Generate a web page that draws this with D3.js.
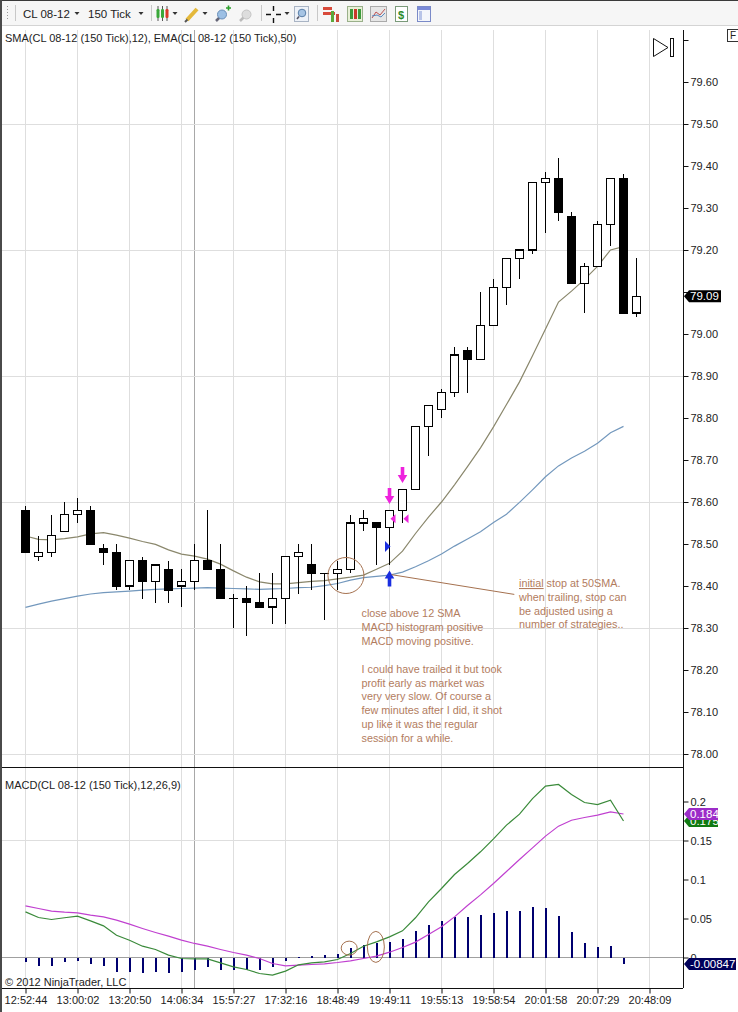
<!DOCTYPE html>
<html>
<head>
<meta charset="utf-8">
<title>CL 08-12 (150 Tick)</title>
<script src="https://cdn.jsdelivr.net/npm/d3@7"></script>
<style>
  body { margin:0; padding:0; background:#fff; overflow:hidden; }
  svg text { font-family: "Liberation Sans", Arial, sans-serif; }
</style>
</head>
<body>
<svg id="chart" width="738" height="1012"></svg>
<script>

// bar time labels (every 4th bar)
var timeLabels = ["12:52:44","13:00:02","13:20:50","14:06:34","15:57:27","17:32:16","18:48:49",
                  "19:49:11","19:55:13","19:58:54","20:01:58","20:07:29","20:48:09"];

// 150 tick candles
var opens  = [78.58,78.47,78.48,78.53,78.57,78.58,78.49,78.48,78.40,78.46,78.41,78.44,78.40,78.41,78.46,78.44,
              78.37,78.37,78.36,78.35,78.37,78.47,78.45,78.43,78.43,78.44,78.55,78.55,78.54,78.58,78.63,78.78,
              78.82,78.86,78.96,78.94,79.02,79.11,79.18,79.20,79.36,79.37,79.28,79.12,79.16,79.26,79.37,79.05];
var highs  = [78.59,78.52,78.57,78.60,78.61,78.59,78.50,78.50,78.46,78.47,78.45,78.46,78.44,78.50,78.58,78.50,
              78.38,78.40,78.43,78.43,78.47,78.50,78.50,78.43,78.46,78.57,78.58,78.55,78.58,78.63,78.78,78.83,
              78.87,78.97,78.97,79.10,79.13,79.18,79.20,79.36,79.385,79.42,79.29,79.17,79.27,79.37,79.38,79.18];
var lows   = [78.48,78.46,78.47,78.53,78.55,78.50,78.45,78.39,78.39,78.37,78.36,78.36,78.35,78.39,78.44,78.37,
              78.30,78.28,78.35,78.31,78.31,78.38,78.39,78.32,78.39,78.43,78.53,78.45,78.45,78.55,78.63,78.71,
              78.80,78.85,78.86,78.94,79.07,79.07,79.13,79.19,79.24,79.27,79.12,79.05,79.16,79.21,79.05,79.04];
var closes = [78.48,78.48,78.52,78.57,78.58,78.50,78.48,78.40,78.46,78.41,78.45,78.39,78.41,78.46,78.44,78.37,
              78.37,78.36,78.35,78.37,78.47,78.48,78.43,78.43,78.44,78.55,78.56,78.54,78.58,78.63,78.78,78.83,
              78.86,78.95,78.94,79.02,79.11,79.18,79.20,79.36,79.37,79.29,79.12,79.16,79.26,79.37,79.05,79.09];

// indicators (plotted on closed bars only)
var sma12 = [78.519,78.511,78.510,78.513,78.517,78.524,78.527,78.521,78.514,78.506,78.499,78.486,78.476,78.471,
             78.464,78.452,78.436,78.421,78.410,78.405,78.405,78.408,78.411,78.413,78.417,78.421,78.426,78.440,
             78.454,78.483,78.525,78.564,78.600,78.641,78.684,78.729,78.779,78.832,78.886,78.948,79.012,79.076,
             79.102,79.130,79.161,79.200,79.208];
var ema50 = [78.349,78.357,78.364,78.370,78.376,78.381,78.384,78.386,78.388,78.390,78.392,78.393,78.394,78.395,
             78.396,78.395,78.394,78.393,78.392,78.393,78.394,78.396,78.397,78.401,78.406,78.414,78.420,78.423,
             78.426,78.433,78.446,78.460,78.476,78.495,78.512,78.529,78.551,78.571,78.599,78.629,78.660,78.686,
             78.705,78.721,78.740,78.765,78.780];

var macd   = [0.0585,0.0513,0.0487,0.0510,0.0530,0.0470,0.0406,0.0286,0.0222,0.0145,0.0103,0.0030,-0.0013,-0.0017,
              -0.0017,-0.0068,-0.0120,-0.0154,-0.0205,-0.0226,-0.0175,-0.0094,-0.0068,-0.0056,-0.0026,0.0051,0.0145,
              0.0200,0.0265,0.0342,0.0509,0.0714,0.0885,0.1064,0.1205,0.1355,0.1521,0.1697,0.1838,0.2038,0.2197,
              0.2218,0.2090,0.1987,0.1960,0.2017,0.175];
var signal = [0.0662,0.0628,0.0594,0.0581,0.0573,0.0543,0.0521,0.0479,0.0427,0.0372,0.0321,0.0274,0.0222,0.0180,
              0.0145,0.0103,0.0064,0.0030,-0.0013,-0.0077,-0.0107,-0.0098,-0.0090,-0.0081,-0.0064,-0.0043,-0.0013,
              0.0017,0.0068,0.0128,0.0197,0.0295,0.0393,0.0521,0.0667,0.0803,0.0949,0.1103,0.1256,0.1406,0.1556,
              0.1684,0.1760,0.1795,0.1825,0.1868,0.184];
var hist   = [-0.0064,-0.0107,-0.0107,-0.0064,-0.0047,-0.0077,-0.0107,-0.0184,-0.0184,-0.0205,-0.0192,-0.0205,
              -0.0192,-0.0162,-0.0128,-0.0154,-0.0162,-0.0162,-0.0162,-0.0128,-0.0047,0.0010,0.0013,0.0030,0.0043,
              0.0124,0.0158,0.0180,0.0197,0.0235,0.0338,0.0419,0.0470,0.0520,0.0520,0.0543,0.0573,0.0598,0.0598,
              0.0650,0.0637,0.0538,0.0330,0.0180,0.0137,0.0150,-0.00847];

var priceTicks = [78.0,78.1,78.2,78.3,78.4,78.5,78.6,78.7,78.8,78.9,79.0,79.1,79.2,79.3,79.4,79.5,79.6,79.7];
var priceGrid  = [78.0,78.3,78.6,78.9,79.2,79.5];
var macdTicks  = [0,0.05,0.1,0.15,0.2];
var macdTickLabels = ["0","0.05","0.1","0.15","0.2"];
var macdGrid   = [0,0.15];
var sessionBreak = 13;

var noteLeft = ["close above 12 SMA","MACD histogram positive","MACD moving positive.","",
                "I could have trailed it but took","profit early as market was","very very slow. Of course a",
                "few minutes after I did, it shot","up like it was the regular","session for a while."];
var noteRight = ["stop at 50SMA.","when trailing, stop can","be adjusted using a","number of strategies.."];

// ------------------------------------------------------------
var svg = d3.select('#chart');
var axisX = 683;
var noteColor = '#b27c5e', noteLine = '#a5714f';

var x  = d3.scaleLinear().domain([0, 48]).range([25.5, 649.5]);
var yP = d3.scaleLinear().domain([78.0, 79.6]).range([754, 82]);
var yM = d3.scaleLinear().domain([0, 0.2]).range([957.5, 801.5]);
var lastClose = closes[closes.length - 1];

svg.append('rect').attr('width',738).attr('height',1012).attr('fill','#fff');

// ---------------- toolbar
var tb = svg.append('g');
tb.append('rect').attr('x',0).attr('y',0).attr('width',738).attr('height',25).attr('fill','#f6f6f6');
tb.append('line').attr('x1',0).attr('x2',738).attr('y1',25.5).attr('y2',25.5).attr('stroke','#d4d4d4');
tb.append('line').attr('x1',0).attr('x2',738).attr('y1',0.5).attr('y2',0.5).attr('stroke','#3a3a3a');
tb.append('line').attr('x1',7.5).attr('x2',7.5).attr('y1',6).attr('y2',21).attr('stroke','#9a9a9a').attr('stroke-dasharray','1,2');
[15.5,151.5,261.5,317.5].forEach(function(s){
  tb.append('line').attr('x1',s).attr('x2',s).attr('y1',5).attr('y2',21).attr('stroke','#c8c8c8');
});
function dropArrow(cx){
  tb.append('path').attr('d','M'+(cx-2.5)+',12 L'+(cx+2.5)+',12 L'+cx+',15 Z').attr('fill','#333');
}
tb.append('text').attr('x',23).attr('y',18).attr('font-size',11.5).attr('fill','#222').text('CL 08-12');
dropArrow(77);
tb.append('text').attr('x',88).attr('y',18).attr('font-size',11.5).attr('fill','#222').text('150 Tick');
dropArrow(141);
// candle icon
[[157,'#3aa83a'],[161.5,'#3aa83a'],[166,'#d83a2a']].forEach(function(c){
  tb.append('line').attr('x1',c[0]+1).attr('x2',c[0]+1).attr('y1',6).attr('y2',21).attr('stroke','#555');
  tb.append('rect').attr('x',c[0]-0.5).attr('y',9).attr('width',3).attr('height',9).attr('rx',1.2).attr('fill',c[1]);
});
dropArrow(175);
// pencil
tb.append('line').attr('x1',187).attr('y1',20).attr('x2',197).attr('y2',9).attr('stroke','#e4b83a').attr('stroke-width',4);
tb.append('line').attr('x1',185).attr('y1',22).attr('x2',187.5).attr('y2',19.5).attr('stroke','#555').attr('stroke-width',2);
dropArrow(205);
// magnifier with plus
tb.append('line').attr('x1',216).attr('y1',21).attr('x2',220).attr('y2',17).attr('stroke','#667').attr('stroke-width',2.5);
tb.append('circle').attr('cx',222).attr('cy',14.5).attr('r',4.5).attr('fill','#9cc0e4').attr('stroke','#6a8fb8');
tb.append('path').attr('d','M226,8 h5 M228.5,5.5 v5').attr('stroke','#2ca02c').attr('stroke-width',1.6);
// grey magnifier
tb.append('line').attr('x1',240).attr('y1',21).attr('x2',244).attr('y2',17).attr('stroke','#bbb').attr('stroke-width',2.5);
tb.append('circle').attr('cx',246.5).attr('cy',14.5).attr('r',4.5).attr('fill','#ddd').attr('stroke','#c4c4c4');
// crosshair
tb.append('path').attr('d','M266,14.5 h5 M276,14.5 h5 M273.5,6 v5 M273.5,18 v5').attr('stroke','#111').attr('stroke-width',1.4);
dropArrow(287);
// zoom box
tb.append('rect').attr('x',294.5).attr('y',6.5).attr('width',14).attr('height',15).attr('fill','#eef2f8').attr('stroke','#a9b4c4');
tb.append('circle').attr('cx',302).attr('cy',13).attr('r',3.8).attr('fill','#a6c4e4').attr('stroke','#5a7fa8');
tb.append('line').attr('x1',299).attr('y1',16.5).attr('x2',297).attr('y2',19).attr('stroke','#556').attr('stroke-width',1.6);
// panel icons
tb.append('rect').attr('x',323).attr('y',7).attr('width',9).attr('height',3).attr('fill','#d84a3a');
tb.append('rect').attr('x',323).attr('y',12).attr('width',12).attr('height',3).attr('fill','#d84a3a');
tb.append('rect').attr('x',331).attr('y',11).attr('width',3).attr('height',11).attr('fill','#5aa83a');
tb.append('rect').attr('x',336).attr('y',14).attr('width',3).attr('height',8).attr('fill','#c84a3a');
tb.append('rect').attr('x',347.5).attr('y',6.5).attr('width',15).attr('height',15).attr('fill','#e8f0d8').attr('stroke','#9ab08a');
[[350,'#3a9a3a'],[354,'#c83a2a'],[358,'#3a9a3a']].forEach(function(c){
  tb.append('rect').attr('x',c[0]).attr('y',9).attr('width',3).attr('height',10).attr('fill',c[1]);
});
tb.append('rect').attr('x',370.5).attr('y',6.5).attr('width',16).attr('height',15).attr('fill','#e6e6e6').attr('stroke','#aaa');
tb.append('path').attr('d','M372,18 L376,12 L380,15 L385,9').attr('fill','none').attr('stroke','#c05050');
tb.append('path').attr('d','M372,16 L377,15 L381,17 L385,13').attr('fill','none').attr('stroke','#5a8ac0');
tb.append('rect').attr('x',395.5).attr('y',6.5).attr('width',12).attr('height',15).attr('fill','#fff').attr('stroke','#7a9a7a');
tb.append('text').attr('x',398).attr('y',18.5).attr('font-size',11).attr('font-weight','bold').attr('fill','#2a8a2a').text('$');
tb.append('rect').attr('x',417.5).attr('y',6.5).attr('width',13).attr('height',15).attr('fill','#f4f6fb').attr('stroke','#7a8ac8');
tb.append('rect').attr('x',418).attr('y',7).attr('width',12).attr('height',3).attr('fill','#7a8ad8');
tb.append('rect').attr('x',419).attr('y',11).attr('width',3).attr('height',9).attr('fill','#b8c4e8');

// ---------------- grids
var grid = svg.append('g').attr('shape-rendering','crispEdges');
grid.selectAll('line.v').data(d3.range(0, 49, 4)).enter().append('line')
  .attr('x1', function(d){ return x(d); }).attr('x2', function(d){ return x(d); })
  .attr('y1', 30).attr('y2', 988).attr('stroke', '#dedede');
grid.append('line').attr('x1', x(sessionBreak)).attr('x2', x(sessionBreak))
  .attr('y1', 30).attr('y2', 988).attr('stroke', '#a8a8a8');
grid.selectAll('line.hp').data(priceGrid).enter().append('line')
  .attr('x1', 0).attr('x2', axisX).attr('y1', function(d){ return yP(d); }).attr('y2', function(d){ return yP(d); })
  .attr('stroke', '#dedede');
grid.selectAll('line.hm').data(macdGrid).enter().append('line')
  .attr('x1', 0).attr('x2', axisX).attr('y1', function(d){ return yM(d); }).attr('y2', function(d){ return yM(d); })
  .attr('stroke', function(d){ return d === 0 ? '#a0a0a0' : '#dedede'; });

// ---------------- title texts
svg.append('text').attr('x',5).attr('y',42).attr('font-size',11).attr('fill','#222')
  .text('SMA(CL 08-12 (150 Tick),12), EMA(CL 08-12 (150 Tick),50)');
svg.append('text').attr('x',5).attr('y',789).attr('font-size',11).attr('fill','#222')
  .text('MACD(CL 08-12 (150 Tick),12,26,9)');
svg.append('text').attr('x',5).attr('y',986).attr('font-size',11).attr('fill','#222')
  .text('\u00a9 2012 NinjaTrader, LLC');

// ---------------- indicator lines (main)
var main = svg.append('g');
var pline = d3.line().x(function(d, i){ return x(i); }).y(function(d){ return yP(d); });
main.append('path').datum(ema50).attr('d', pline).attr('fill','none').attr('stroke','#7398bd').attr('stroke-width',1.2);
main.append('path').datum(sma12).attr('d', pline).attr('fill','none').attr('stroke','#8a876c').attr('stroke-width',1.2);

// ---------------- candles
var candles = closes.map(function(c, i){ return {i:i, o:opens[i], h:highs[i], l:lows[i], c:c}; });
var cg = main.append('g').attr('shape-rendering','crispEdges');
cg.selectAll('line.wick').data(candles).enter().append('line')
  .attr('x1', function(d){ return x(d.i); }).attr('x2', function(d){ return x(d.i); })
  .attr('y1', function(d){ return yP(d.h); }).attr('y2', function(d){ return yP(d.l); })
  .attr('stroke','#000').attr('stroke-width',1.3);
cg.selectAll('rect.body').data(candles.filter(function(d){ return d.o !== d.c; })).enter().append('rect')
  .attr('x', function(d){ return x(d.i) - 4; }).attr('width', 8)
  .attr('y', function(d){ return yP(Math.max(d.o, d.c)); })
  .attr('height', function(d){ return Math.abs(yP(d.o) - yP(d.c)); })
  .attr('fill', function(d){ return d.c < d.o ? '#000' : '#fff'; })
  .attr('stroke','#000').attr('stroke-width',1.3);
cg.selectAll('line.doji').data(candles.filter(function(d){ return d.o === d.c; })).enter().append('line')
  .attr('x1', function(d){ return x(d.i) - 4.5; }).attr('x2', function(d){ return x(d.i) + 4.5; })
  .attr('y1', function(d){ return yP(d.c); }).attr('y2', function(d){ return yP(d.c); })
  .attr('stroke','#000').attr('stroke-width',1.3);

// ---------------- trade markers & notes
var ann = svg.append('g');
var entryBar = 28, exitBar = 29;
function downArrow(cx, tipY, color){
  ann.append('path').attr('d',
    'M'+(cx-1.8)+','+(tipY-16)+' h3.6 v8 h3 L'+cx+','+tipY+' L'+(cx-4.8)+','+(tipY-8)+' h3 Z')
    .attr('fill', color);
}
function upArrow(cx, tipY, color){
  ann.append('path').attr('d',
    'M'+(cx-1.8)+','+(tipY+16)+' h3.6 v-8 h3 L'+cx+','+tipY+' L'+(cx-4.8)+','+(tipY+8)+' h3 Z')
    .attr('fill', color);
}
downArrow(x(entryBar), yP(78.595), '#ee22dd');
downArrow(x(exitBar), yP(78.645), '#ee22dd');
upArrow(x(entryBar), yP(78.437), '#1a2ee0');
// entry / exit triangles
ann.append('path').attr('d', 'M'+(x(entryBar)-4.5)+','+(yP(78.494)-5.5)+' L'+(x(entryBar)+1)+','+yP(78.494)+
  ' L'+(x(entryBar)-4.5)+','+(yP(78.494)+5.5)+' Z').attr('fill','#1a2ee0');
[entryBar, exitBar].forEach(function(b){
  ann.append('path').attr('d', 'M'+(x(b)+6)+','+(yP(78.56)-4.5)+' L'+(x(b)+1)+','+yP(78.56)+
    ' L'+(x(b)+6)+','+(yP(78.56)+4.5)+' Z').attr('fill','#ee22dd');
});
// circle around cross, line to stop note
ann.append('circle').attr('cx', x(24.65)).attr('cy', yP(78.425)).attr('r', 18)
  .attr('fill','none').attr('stroke', noteLine).attr('stroke-width',1);
ann.append('line').attr('x1', x(entryBar) + 2).attr('y1', yP(78.427))
  .attr('x2', x(37.6)).attr('y2', yP(78.38)).attr('stroke', noteLine).attr('stroke-width',1);

var tr = ann.append('text').attr('x', 519).attr('y', 587).attr('font-size',10.8).attr('fill', noteColor);
tr.append('tspan').attr('text-decoration','underline').text('initial');
tr.append('tspan').text(' ' + noteRight[0]);
noteRight.slice(1).forEach(function(s, k){
  ann.append('text').attr('x',519).attr('y',587 + (k+1)*13.8).attr('font-size',10.8).attr('fill',noteColor).text(s);
});
noteLeft.forEach(function(s, k){
  ann.append('text').attr('x',361.5).attr('y',617 + k*13.9).attr('font-size',10.8).attr('fill',noteColor).text(s);
});

// ---------------- MACD panel
var mg = svg.append('g');
mg.append('g').attr('shape-rendering','crispEdges').selectAll('rect').data(hist).enter().append('rect')
  .attr('x', function(d, i){ return x(i) - 1; }).attr('width', 2.2)
  .attr('y', function(d){ return Math.min(yM(d), yM(0)); })
  .attr('height', function(d){ return Math.abs(yM(d) - yM(0)); })
  .attr('fill', '#000070');
var mline = d3.line().x(function(d, i){ return x(i); }).y(function(d){ return yM(d); });
mg.append('path').datum(signal).attr('d', mline).attr('fill','none').attr('stroke','#c040d0').attr('stroke-width',1.2);
mg.append('path').datum(macd).attr('d', mline).attr('fill','none').attr('stroke','#3a8a3a').attr('stroke-width',1.2);
mg.append('ellipse').attr('cx', x(24.9)).attr('cy', yM(0.012)).attr('rx', 8).attr('ry', 7)
  .attr('fill','none').attr('stroke', noteLine);
mg.append('ellipse').attr('cx', x(26.95)).attr('cy', yM(0.0136)).attr('rx', 8.5).attr('ry', 15.5)
  .attr('fill','none').attr('stroke', noteLine);

// ---------------- frames & axes
var fr = svg.append('g').attr('shape-rendering','crispEdges');
fr.append('line').attr('x1',0).attr('x2',axisX).attr('y1',767.5).attr('y2',767.5).attr('stroke','#111');
fr.append('line').attr('x1',axisX + 0.5).attr('x2',axisX + 0.5).attr('y1',30).attr('y2',988).attr('stroke','#111');
fr.append('line').attr('x1',0).attr('x2',axisX).attr('y1',988.5).attr('y2',988.5).attr('stroke','#111');
fr.append('rect').attr('x',0).attr('y',0).attr('width',2).attr('height',1012).attr('fill','#4a4a4a');

var fmtP = d3.format('.2f');
// price labels hidden at the top edge and under the last-price marker
var pAxis = svg.append('g').attr('transform','translate(' + (axisX + 0.5) + ',0)')
  .call(d3.axisRight(yP).tickValues(priceTicks).tickSize(5).tickPadding(2)
    .tickFormat(function(d){
      if (yP(d) < 60 || Math.abs(yP(d) - yP(lastClose)) < 10) return '';
      return fmtP(d);
    }));
var mAxis = svg.append('g').attr('transform','translate(' + (axisX + 0.5) + ',0)')
  .call(d3.axisRight(yM).tickValues(macdTicks).tickSize(5).tickPadding(2)
    .tickFormat(function(d, i){ return macdTickLabels[i]; }));
var tAxis = svg.append('g').attr('transform','translate(0,988.5)')
  .call(d3.axisBottom(x).tickValues(d3.range(0, 49, 4)).tickSize(5).tickPadding(3)
    .tickFormat(function(d){ return timeLabels[d / 4]; }));
[pAxis, mAxis, tAxis].forEach(function(a){
  a.select('.domain').remove();
  a.selectAll('text').attr('font-family','"Liberation Sans", Arial, sans-serif').attr('font-size',11).attr('fill','#222');
  a.selectAll('line').attr('stroke','#111');
});

// ---------------- value markers on axes
function marker(yv, label, bg, w){
  var g = svg.append('g');
  g.append('path').attr('d', 'M'+(axisX+1)+','+yv+' L'+(axisX+6)+','+(yv-6)+' L'+(axisX+6+w)+','+(yv-6)+
    ' L'+(axisX+6+w)+','+(yv+6)+' L'+(axisX+6)+','+(yv+6)+' Z').attr('fill', bg);
  g.append('text').attr('x', axisX + 7).attr('y', yv + 4).attr('font-size', 11.5).attr('fill','#fff').text(label);
}
var fmtM = function(v){ return d3.format('.3r')(v).replace('\u2212','-'); };
marker(yP(lastClose), fmtP(lastClose), '#000', 32);
marker(yM(macd[macd.length - 1]), fmtM(macd[macd.length - 1]), '#117a11', 29);
marker(yM(signal[signal.length - 1]), fmtM(signal[signal.length - 1]), '#9c2cc8', 29);
marker(yM(hist[hist.length - 1]), fmtM(hist[hist.length - 1]), '#00005a', 47);

// ---------------- top right widgets
svg.append('path').attr('d','M653.5,38.5 L668,47.5 L653.5,56.5 Z').attr('fill','#fff').attr('stroke','#111');
svg.append('rect').attr('x',670.5).attr('y',38.5).attr('width',3).attr('height',18).attr('fill','#fff').attr('stroke','#111');
svg.append('rect').attr('x',727.5).attr('y',29.5).attr('width',11).attr('height',12).attr('fill','#fff').attr('stroke','#333');
svg.append('text').attr('x',730).attr('y',39).attr('font-size',10).attr('fill','#222').text('F');

</script>
</body>
</html>
